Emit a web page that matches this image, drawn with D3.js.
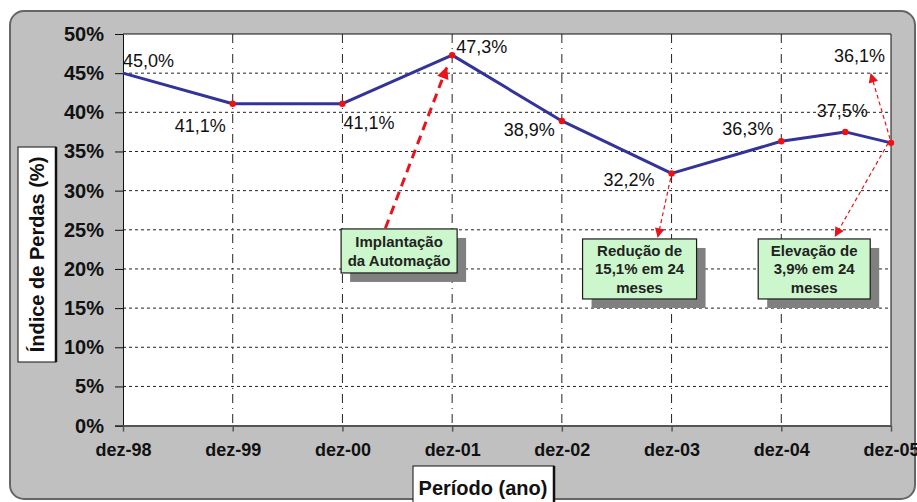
<!DOCTYPE html>
<html>
<head>
<meta charset="utf-8">
<script src="https://cdn.jsdelivr.net/npm/d3@7"></script>
<style>
  body { margin: 0; background: #fff; }
  svg { display: block; font-family: "Liberation Sans", Arial, sans-serif; }
</style>
</head>
<body>
<div id="chart"></div>
<script>
const width = 917;
const height = 502;

// months counted from dez-98
const months = [0, 12, 24, 36, 48, 60, 72, 79, 84];
const values = [45.0, 41.1, 41.1, 47.3, 38.9, 32.2, 36.3, 37.5, 36.1];
const labels = ["45,0%", "41,1%", "41,1%", "47,3%", "38,9%", "32,2%", "36,3%", "37,5%", "36,1%"];
const tickMonths = [0, 12, 24, 36, 48, 60, 72, 84];
const tickLabels = ["dez-98", "dez-99", "dez-00", "dez-01", "dez-02", "dez-03", "dez-04", "dez-05"];
const yTicks = [0, 5, 10, 15, 20, 25, 30, 35, 40, 45, 50];

const boxTexts = [
  ["Implantação", "da Automação"],
  ["Redução de", "15,1% em 24", "meses"],
  ["Elevação de", "3,9% em 24", "meses"]
];
// box centres, in months / percent
const boxMonths = [30.2, 56.5, 75.6];
const boxValues = [22.3, 20.0, 20.0];

// arrows: [fromMonth, fromValue, toMonth, toValue]
const arrows = [
  [28.7, 25.2, 35.4, 45.7],
  [59.9, 31.6, 58.5, 24.1],
  [83.7, 36.1, 77.9, 24.2],
  [83.9, 36.6, 81.8, 44.9]
];

// label placement (style only)
const labelPos = [
  { a: "start", dx: 0, dy: -6 },
  { a: "end", dx: -7, dy: 28 },
  { a: "start", dx: 1, dy: 25 },
  { a: "start", dx: 4, dy: -2 },
  { a: "end", dx: -7, dy: 15 },
  { a: "end", dx: -17, dy: 13 },
  { a: "end", dx: -8, dy: -6 },
  { a: "middle", dx: -3, dy: -15 },
  { a: "end", dx: -6, dy: -81 }
];
const boxSize = [[116, 44], [114, 60], [112, 60]];

const plot = { left: 123, top: 34, right: 891, bottom: 425.6 };

const svg = d3.select("#chart").append("svg")
  .attr("width", width)
  .attr("height", height);

const defs = svg.append("defs");
defs.append("marker")
  .attr("id", "headBig")
  .attr("viewBox", "0 0 10 10")
  .attr("refX", 9).attr("refY", 5)
  .attr("markerWidth", 5).attr("markerHeight", 4)
  .attr("markerUnits", "strokeWidth")
  .attr("orient", "auto")
  .append("path").attr("d", "M0,0L10,5L0,10Z").attr("fill", "#e8141c");
defs.append("marker")
  .attr("id", "headSmall")
  .attr("viewBox", "0 0 10 10")
  .attr("refX", 9).attr("refY", 5)
  .attr("markerWidth", 11).attr("markerHeight", 8)
  .attr("markerUnits", "strokeWidth")
  .attr("orient", "auto")
  .append("path").attr("d", "M0,0L10,5L0,10Z").attr("fill", "#e8141c");

// background panel
svg.append("rect")
  .attr("x", 10).attr("y", 11)
  .attr("width", 905).attr("height", 488)
  .attr("rx", 14)
  .attr("fill", "#c0c0c0")
  .attr("stroke", "#666")
  .attr("stroke-width", 2);

const x = d3.scaleLinear().domain([0, 84]).range([plot.left, plot.right]);
const y = d3.scaleLinear().domain([0, 50]).range([plot.bottom, plot.top]);

svg.append("rect")
  .attr("x", plot.left).attr("y", plot.top)
  .attr("width", plot.right - plot.left).attr("height", plot.bottom - plot.top)
  .attr("fill", "#fff");

// horizontal grid
svg.append("g").selectAll("line")
  .data(yTicks.filter(d => d > 0 && d < 50))
  .enter().append("line")
  .attr("x1", plot.left).attr("x2", plot.right)
  .attr("y1", d => y(d)).attr("y2", d => y(d))
  .attr("stroke", "#222")
  .attr("stroke-width", 1)
  .attr("stroke-dasharray", "3,3");

// vertical grid
svg.append("g").selectAll("line")
  .data(tickMonths.slice(1, -1))
  .enter().append("line")
  .attr("x1", d => x(d)).attr("x2", d => x(d))
  .attr("y1", plot.top).attr("y2", plot.bottom)
  .attr("stroke", "#222")
  .attr("stroke-width", 1)
  .attr("stroke-dasharray", "9,5,1,5");

// plot frame top/right
svg.append("path")
  .attr("d", `M${plot.left},${plot.top}H${plot.right}V${plot.bottom}`)
  .attr("fill", "none")
  .attr("stroke", "#111")
  .attr("stroke-width", 1);

// y axis
const yAxis = svg.append("g")
  .attr("transform", `translate(${plot.left},0)`)
  .call(d3.axisLeft(y).tickValues(yTicks).tickFormat(d => d + "%").tickSize(8).tickPadding(11));
yAxis.select(".domain").attr("stroke", "#111");
yAxis.selectAll("line").attr("stroke", "#111");
yAxis.selectAll("text")
  .attr("font-size", 20)
  .attr("font-weight", "bold")
  .attr("font-family", "Liberation Sans, Arial, sans-serif")
  .attr("fill", "#111");

// x axis
const xAxis = svg.append("g")
  .attr("transform", `translate(0,${plot.bottom})`)
  .call(d3.axisBottom(x).tickValues(tickMonths).tickFormat((d, i) => tickLabels[i]).tickSize(6).tickPadding(12).tickSizeOuter(0));
xAxis.select(".domain").attr("stroke", "#555").attr("stroke-width", 2);
xAxis.selectAll("line").attr("stroke", "#555").attr("stroke-width", 1.5);
xAxis.selectAll("text")
  .attr("font-size", 18)
  .attr("font-weight", "bold")
  .attr("font-family", "Liberation Sans, Arial, sans-serif")
  .attr("fill", "#111");

// series line
const pts = months.map((m, i) => [x(m), y(values[i])]);
svg.append("path")
  .attr("d", d3.line()(pts))
  .attr("fill", "none")
  .attr("stroke", "#333399")
  .attr("stroke-width", 3)
  .attr("stroke-linejoin", "round");

svg.append("g").selectAll("circle")
  .data(pts.slice(1))
  .enter().append("circle")
  .attr("cx", d => d[0]).attr("cy", d => d[1])
  .attr("r", 3.2)
  .attr("fill", "#ee1111");

// value labels
svg.append("g").selectAll("text")
  .data(labels)
  .enter().append("text")
  .attr("x", (d, i) => pts[i][0] + labelPos[i].dx)
  .attr("y", (d, i) => pts[i][1] + labelPos[i].dy)
  .attr("text-anchor", (d, i) => labelPos[i].a)
  .attr("font-size", 18)
  .attr("fill", "#111")
  .text(d => d);

// annotation boxes
boxTexts.forEach((lines, i) => {
  const [w, h] = boxSize[i];
  const cx = x(boxMonths[i]);
  const cy = y(boxValues[i]);
  const g = svg.append("g").attr("transform", `translate(${cx - w / 2},${cy - h / 2})`);
  g.append("rect").attr("x", 9).attr("y", 9).attr("width", w).attr("height", h).attr("fill", "#808080");
  g.append("rect").attr("width", w).attr("height", h)
    .attr("fill", "#ccf7cc").attr("stroke", "#1a1a1a").attr("stroke-width", 1.2);
  g.selectAll("text").data(lines).enter().append("text")
    .attr("x", w / 2)
    .attr("y", (d, j) => h / 2 + (j - (lines.length - 1) / 2) * 18.5 + 5.5)
    .attr("text-anchor", "middle")
    .attr("font-size", 15)
    .attr("font-weight", "bold")
    .attr("fill", "#222")
    .text(d => d);
});

// arrows
svg.append("g").selectAll("line")
  .data(arrows)
  .enter().append("line")
  .attr("x1", d => x(d[0])).attr("y1", d => y(d[1]))
  .attr("x2", d => x(d[2])).attr("y2", d => y(d[3]))
  .attr("stroke", "#e8141c")
  .attr("stroke-width", (d, i) => i === 0 ? 3 : 1.2)
  .attr("stroke-dasharray", (d, i) => i === 0 ? "9,6" : "4,3")
  .attr("marker-end", (d, i) => i === 0 ? "url(#headBig)" : "url(#headSmall)");

// axis titles
const yt = svg.append("g");
yt.append("rect").attr("x", 18).attr("y", 147).attr("width", 38).attr("height", 215)
  .attr("fill", "#fff").attr("stroke", "#111").attr("stroke-width", 1);
yt.append("line").attr("x1", 56).attr("x2", 56).attr("y1", 147).attr("y2", 362)
  .attr("stroke", "#111").attr("stroke-width", 2.5);
yt.append("text")
  .attr("transform", "translate(44,254.5) rotate(-90)")
  .attr("text-anchor", "middle")
  .attr("font-size", 20)
  .attr("font-weight", "bold")
  .attr("fill", "#111")
  .text("Índice de Perdas (%)");

const xt = svg.append("g");
xt.append("rect").attr("x", 413).attr("y", 466).attr("width", 141).attr("height", 40)
  .attr("fill", "#fff").attr("stroke", "#111").attr("stroke-width", 1);
xt.append("line").attr("x1", 554).attr("x2", 554).attr("y1", 466).attr("y2", 502)
  .attr("stroke", "#111").attr("stroke-width", 2.5);
xt.append("text")
  .attr("x", 483).attr("y", 495)
  .attr("text-anchor", "middle")
  .attr("font-size", 20)
  .attr("font-weight", "bold")
  .attr("fill", "#111")
  .text("Período (ano)");
</script>
</body>
</html>
